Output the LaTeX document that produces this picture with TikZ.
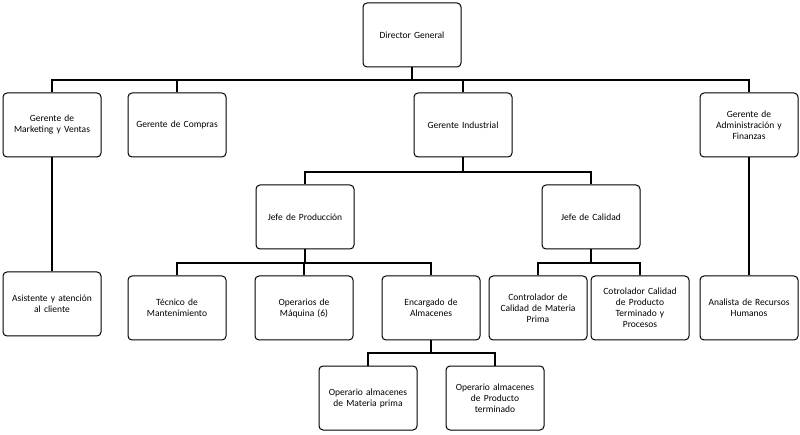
\documentclass[tikz,border=0pt]{standalone}
\usepackage{fontspec}
\setmainfont{Carlito}
\begin{document}
\begin{tikzpicture}[x=1pt,y=-1pt,
 box/.style={draw=black,line width=1pt,rounded corners=4pt,fill=white,minimum width=98pt,minimum height=64pt,align=center,font=\fontsize{9.5}{11}\selectfont,text width=90pt},
 ln/.style={line width=1.2pt}]
\path[use as bounding box] (0,0) rectangle (800,435);
\node[box] (dg) at (412,35) {Director General};
\node[box] (mk) at (52,125) {Gerente de\\Marketing y Ventas};
\node[box] (gc) at (177,125) {Gerente de Compras};
\node[box] (gi) at (463,125) {Gerente Industrial};
\node[box] (ga) at (749,125) {Gerente de\\Administración y\\Finanzas};
\node[box] (jp) at (305,217) {Jefe de Producción};
\node[box] (jc) at (591,217) {Jefe de Calidad};
\node[box] (as) at (52,304) {Asistente y atención\\al cliente};
\node[box] (tm) at (177,308) {Técnico de\\Mantenimiento};
\node[box] (om) at (304,308) {Operarios de\\Máquina (6)};
\node[box] (ea) at (431,308) {Encargado de\\Almacenes};
\node[box] (cm) at (538,308) {Controlador de\\Calidad de Materia\\Prima};
\node[box] (cp) at (640,308) {Cotrolador Calidad\\de Producto\\Terminado y\\Procesos};
\node[box] (ar) at (749,308) {Analista de Recursos\\Humanos};
\node[box] (o1) at (368,398) {Operario almacenes\\de Materia prima};
\node[box] (o2) at (495,398) {Operario almacenes\\de Producto\\terminado};
\draw[ln] (dg.south) -- (412,80);
\draw[ln] (mk.north) -- (52,80) -- (749,80) -- (ga.north);
\draw[ln] (gc.north) -- (177,80);
\draw[ln] (gi.north) -- (463,80);
\draw[ln] (mk.south) -- (as.north);
\draw[ln] (ga.south) -- (ar.north);
\draw[ln] (gi.south) -- (463,172);
\draw[ln] (jp.north) -- (305,172) -- (591,172) -- (jc.north);
\draw[ln] (jp.south) -- (305,263);
\draw[ln] (tm.north) -- (177,263) -- (431,263) -- (ea.north);
\draw[ln] (om.north) -- (304,263);
\draw[ln] (jc.south) -- (591,263);
\draw[ln] (cm.north) -- (538,263) -- (640,263) -- (cp.north);
\draw[ln] (ea.south) -- (431,353);
\draw[ln] (o1.north) -- (368,353) -- (495,353) -- (o2.north);
\end{tikzpicture}
\end{document}
